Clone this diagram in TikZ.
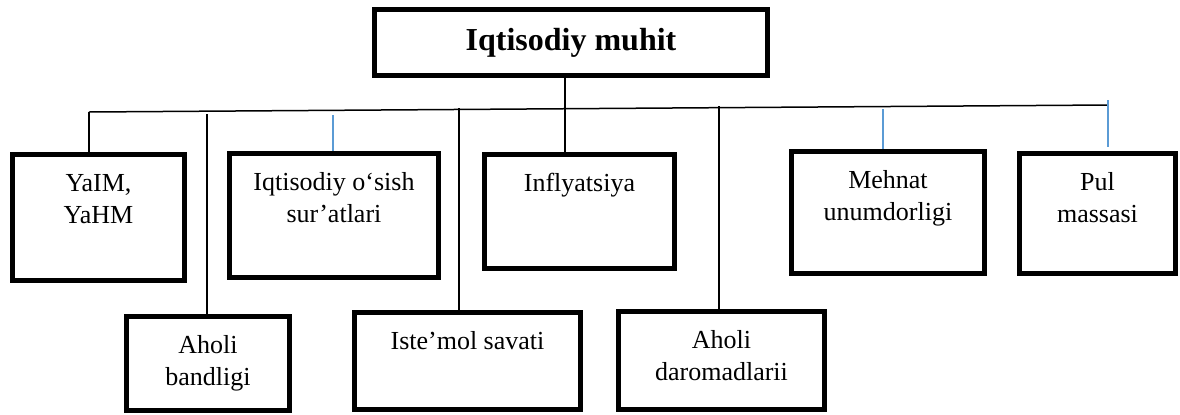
\documentclass[tikz,border=0pt]{standalone}
\usepackage{fontspec}
\setmainfont{Liberation Serif}
\definecolor{linkblue}{HTML}{5B9BD5}
\newcommand{\boxtext}[3]{\parbox[c][#2][t]{#1}{\centering\rule{0pt}{18.25pt}#3}}

\begin{document}
\begin{tikzpicture}[x=0.5pt, y=-0.5pt,
    blk/.style={draw, line width=2.5pt, inner sep=0pt, font=\fontsize{13}{16}\selectfont},
    link/.style={line width=0.75pt},
    bluelink/.style={line width=0.75pt, draw=linkblue}]
      \useasboundingbox (0,0) rectangle (1180,414);

      \node[blk, minimum width=196.5pt, minimum height=33pt,
            font=\fontsize{16}{19}\selectfont\bfseries] (muhit) at (571,42.5) {Iqtisodiy muhit};

      \node[blk] (yaim) at (98.5,217.5) {\boxtext{86pt}{63pt}{YaIM,\\YaHM}};
      \node[blk] (osish) at (334,215.5) {\boxtext{104.5pt}{62pt}{Iqtisodiy o‘sish\\sur’atlari}};
      \node[blk] (infl) at (579.5,211.5) {\boxtext{95pt}{57pt}{Inflyatsiya}};
      \node[blk] (mehnat) at (888,212.5) {\boxtext{96.5pt}{61pt}{Mehnat\\unumdorligi}};
      \node[blk] (pul) at (1097.5,213.5) {\boxtext{78pt}{60pt}{Pul\\massasi}};

      \node[blk] (bandl) at (208,363.5) {\boxtext{81.5pt}{47pt}{Aholi\\bandligi}};
      \node[blk] (istemol) at (467.5,361) {\boxtext{113pt}{48.5pt}{Iste’mol savati}};
      \node[blk] (daromad) at (721.5,360.5) {\boxtext{103pt}{49pt}{Aholi\\daromadlarii}};

      \coordinate (busl) at (89,112);
      \coordinate (busr) at (1108,105);
      \coordinate (hub) at (565,110);
      \coordinate (bandltop) at (207,114);
      \coordinate (osishtop) at (333,115);
      \coordinate (istemoltop) at (459,108);
      \coordinate (daromadtop) at (719,106);
      \coordinate (mehnattop) at (883,109);
      \coordinate (pultop) at (1108,100);

      \draw[link] (busl) -- (busr);
      \draw[link] (hub |- muhit.south) -- (hub |- infl.north);

      \draw[link] (busl) -- (busl |- yaim.north);
      \draw[link] (bandltop) -- (bandltop |- bandl.north);
      \draw[link] (istemoltop) -- (istemoltop |- istemol.north);
      \draw[link] (daromadtop) -- (daromadtop |- daromad.north);

      \draw[bluelink] (osishtop) -- (osishtop |- osish.north);
      \draw[bluelink] (mehnattop) -- (mehnattop |- mehnat.north);
      \draw[bluelink, shorten >=2pt] (pultop) -- (pultop |- pul.north);
    \end{tikzpicture}
\end{document}
